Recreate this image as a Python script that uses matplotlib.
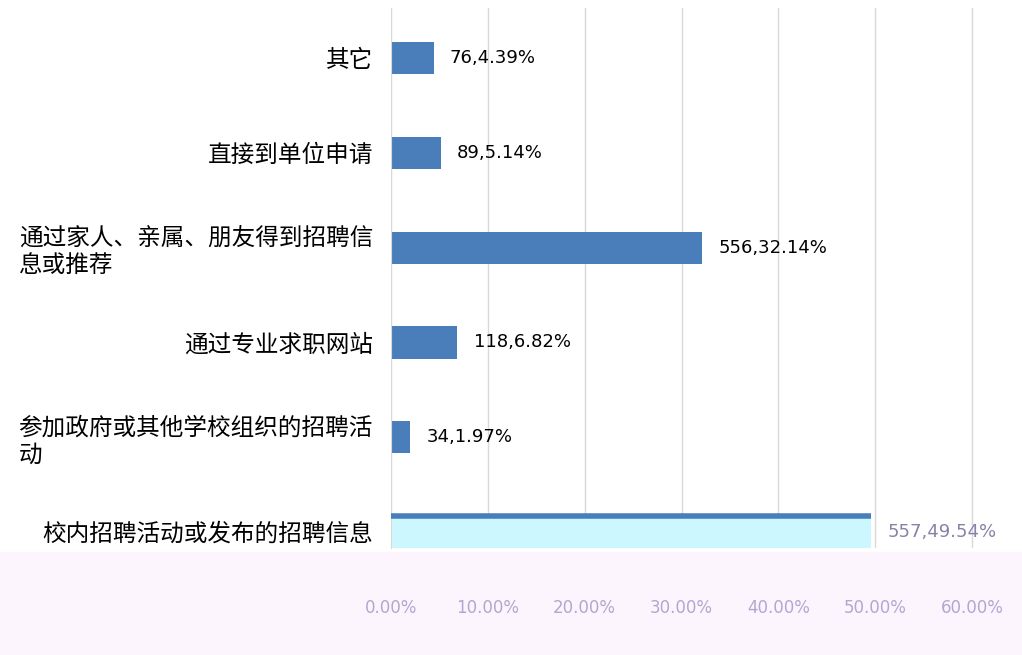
import matplotlib.pyplot as plt
import numpy as np
from matplotlib.patches import Rectangle
plt.rcParams['font.family'] = ['Noto Sans CJK SC', 'DejaVu Sans']
categories = ['其它', '直接到单位申请', '通过家人、亲属、朋友得到招聘信\n息或推荐',
              '通过专业求职网站', '参加政府或其他学校组织的招聘活\n动', '校内招聘活动或发布的招聘信息']
counts = [76, 89, 556, 118, 34, 557]
percents = [4.39, 5.14, 32.14, 6.82, 1.97, 49.54]
x_ticks = [0, 10, 20, 30, 40, 50, 60]
y_indexes = np.arange(len(categories))
height = 0.34
bar_colors = ['#4a7ebb'] * 5 + ['#ccf7ff']

fig = plt.figure(figsize=(10.22, 6.55), dpi=100)
fig.patches.append(Rectangle((0, 0), 1, 1 - 552 / 655, transform=fig.transFigure,
                             color='#fcf5fd', zorder=-1))
ax = fig.add_axes([391 / 1022, 1 - 548 / 655, (974 - 391) / 1022, 540 / 655])
ax.set_facecolor('none')

plt.barh(y_indexes, percents, height=height, color=bar_colors, zorder=2)
# dark edge on top of the last bar
plt.hlines(y_indexes[-1] - height / 2, 0, percents[-1], color='#4a7ebb', linewidth=4, zorder=3)

for i, (c, p) in enumerate(zip(counts, percents)):
    col = '#8a80a8' if i == len(counts) - 1 else 'black'
    plt.text(p + 1.7, i, f'{c},{p:.2f}%', va='center', ha='left', fontsize=13,
             color=col, family='DejaVu Sans', clip_on=False)

plt.xlim(0, 60.2)
plt.ylim(5.17, -0.53)
plt.xticks(x_ticks, [f'{t:.2f}%' for t in x_ticks], color='#b0a8d0', fontsize=12,
           family='DejaVu Sans')
plt.yticks(y_indexes, categories, fontsize=17)
for lab in ax.get_yticklabels():
    lab.set_multialignment('left')
ax.tick_params(axis='x', length=0, pad=37)
ax.tick_params(axis='y', length=0, pad=13)
ax.grid(axis='x', color='#d9d9d9', linewidth=1, zorder=1)
for s in ['top', 'right', 'bottom']:
    ax.spines[s].set_visible(False)
ax.spines['left'].set_color('#d9d9d9')

plt.savefig('out.png')
